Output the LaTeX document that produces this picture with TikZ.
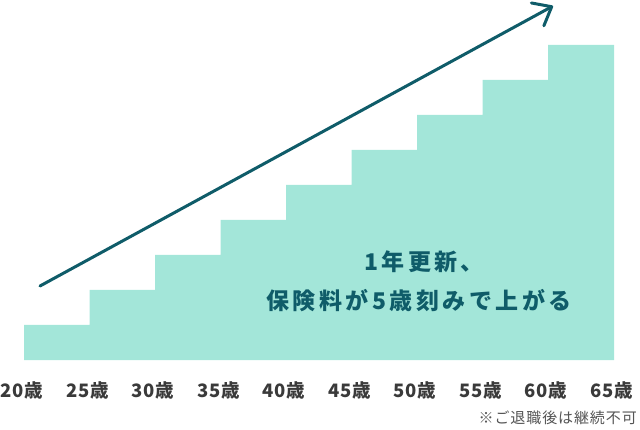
\documentclass[tikz,border=0pt]{standalone}
\usepackage{fontspec}
\newfontfamily\jp{Noto Sans CJK JP}
\newfontfamily\jpage[LetterSpace=4]{Noto Sans CJK JP}
\newfontfamily\jpnote[LetterSpace=6]{Noto Sans CJK JP}
\newfontfamily\jpmain[LetterSpace=15]{Noto Sans CJK JP}
\usetikzlibrary{arrows.meta}
\definecolor{mint}{HTML}{A3E6D9}
\definecolor{teal}{HTML}{0F5C69}
\definecolor{agegray}{HTML}{3A3A3A}
\definecolor{notegray}{HTML}{555555}
\tikzset{
  agelbl/.style={font=\jpage\bfseries\fontsize{18.5}{22}\selectfont, text=agegray, inner sep=0pt, anchor=center},
  mainlbl/.style={font=\jpmain\bfseries\fontsize{23}{27}\selectfont, text=teal, inner sep=0pt, anchor=center},
  notelbl/.style={font=\jpnote\fontsize{15}{18}\selectfont, text=notegray, inner sep=0pt, anchor=east},
}
\begin{document}
\begin{tikzpicture}[x=1pt,y=-1pt]
\useasboundingbox (0,0) rectangle (640,430);
% staircase
\fill[mint] (24,360) -- (24,325)
  \foreach \i in {1,...,8} { -- ({24+65.5*\i},{325-35*(\i-1)}) -- ({24+65.5*\i},{325-35*\i}) }
  -- (614,45) -- (614,360) -- cycle;
% arrow
\coordinate (s) at (40,286);
\coordinate (t) at (553,6);
\draw[teal, line width=3pt, line cap=round, -{Straight Barb[length=16pt,width=26pt,line cap=round,line join=round]}] (s) -- (t);
% main text
\node[mainlbl] (l1) at (424,262) {1年更新、};
\node[mainlbl] (l2) at (419,301) {保険料が5歳刻みで上がる};
% ages
\foreach \a [count=\i from 0] in {20,25,30,35,40,45,50,55,60,65} {
  \node[agelbl] (age\a) at ({22+65.5*\i},390) {\a 歳};
}
\node[notelbl] (note) at (637,418) {※ご退職後は継続不可};
\end{tikzpicture}
\end{document}
